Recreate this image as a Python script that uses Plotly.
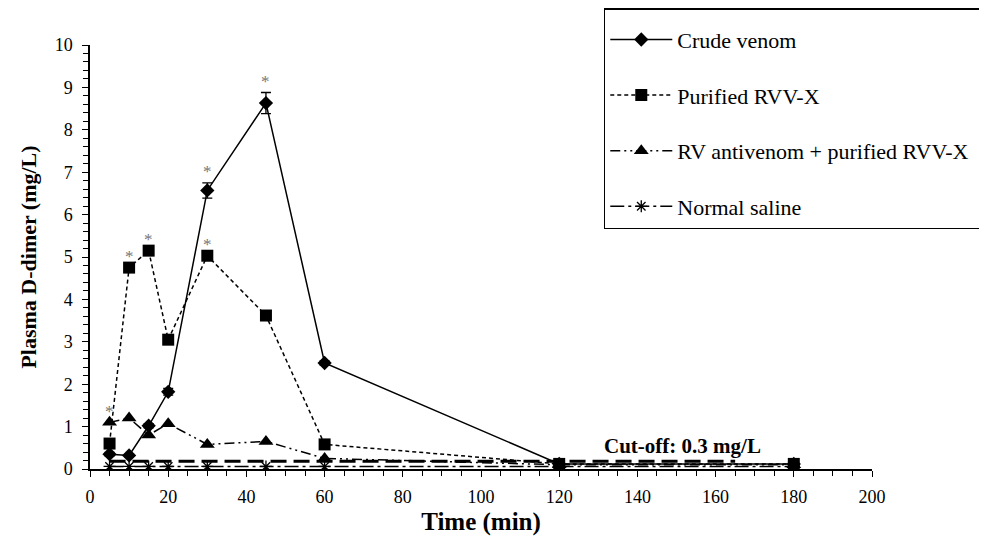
import plotly.graph_objects as go

# ---- data ----
time = [5, 10, 15, 20, 30, 45, 60, 120, 180]
crude_venom = [0.35, 0.32, 1.02, 1.82, 6.57, 8.63, 2.50, 0.12, 0.12]
crude_err = [0.04, 0.03, 0.05, 0.08, 0.18, 0.25, 0.05, 0.02, 0.02]
purified_rvvx = [0.60, 4.75, 5.15, 3.05, 5.03, 3.62, 0.58, 0.12, 0.12]
purified_err = [0.05, 0.10, 0.10, 0.08, 0.10, 0.08, 0.05, 0.02, 0.02]
antivenom_rvvx = [1.10, 1.20, 0.80, 1.07, 0.58, 0.65, 0.25, 0.10, 0.10]
normal_saline = [0.06, 0.06, 0.06, 0.06, 0.06, 0.06, 0.06, 0.06, 0.06]
cutoff_x = [5, 165]
cutoff_y = [0.18, 0.18]
cutoff_label = "Cut-off: 0.3 mg/L"
# significance flags (index into time)
sig_crude = [4, 5]
sig_purified = [1, 2, 4]
sig_antivenom = [0]

x_ticks = [0, 20, 40, 60, 80, 100, 120, 140, 160, 180, 200]
y_ticks = [0, 1, 2, 3, 4, 5, 6, 7, 8, 9, 10]

SERIF = "Liberation Serif, Times New Roman, serif"

fig = go.Figure()

fig.add_trace(go.Scatter(
    x=cutoff_x, y=cutoff_y, mode="lines", showlegend=False, hoverinfo="skip",
    line=dict(color="black", width=3, dash="16px,7px")))

fig.add_trace(go.Scatter(
    x=time, y=crude_venom, name="Crude venom", legendgroup="a",
    mode="lines+markers",
    line=dict(color="black", width=1.5),
    marker=dict(symbol="diamond", size=11, color="black"),
    error_y=dict(type="data", array=crude_err, color="black", thickness=1.3, width=5)))

fig.add_trace(go.Scatter(
    x=time, y=purified_rvvx, name="Purified RVV-X", legendgroup="b",
    mode="lines+markers",
    line=dict(color="black", width=1.5, dash="4px,3px"),
    marker=dict(symbol="square", size=12, color="black"),
    error_y=dict(type="data", array=purified_err, color="black", thickness=1, width=4)))

fig.add_trace(go.Scatter(
    x=time, y=antivenom_rvvx, name="RV antivenom + purified RVV-X&nbsp;&nbsp;", legendgroup="c",
    mode="lines+markers",
    line=dict(color="black", width=1.5, dash="10px,4px,2px,4px,2px,4px"),
    marker=dict(symbol="triangle-up", size=13, color="black")))

fig.add_trace(go.Scatter(
    x=time, y=normal_saline, name="Normal saline", legendgroup="d",
    mode="lines+markers",
    line=dict(color="black", width=1.5, dash="14px,4px,3px,4px"),
    marker=dict(symbol="asterisk-open", size=10, color="black",
                line=dict(color="black", width=1.3))))

# significance asterisks
annotations = []
for idx_list, vals, errs in [(sig_crude, crude_venom, crude_err),
                             (sig_purified, purified_rvvx, [0] * len(time)),
                             (sig_antivenom, antivenom_rvvx, [0] * len(time))]:
    for i in idx_list:
        annotations.append(dict(
            x=time[i], y=vals[i] + errs[i], xref="x", yref="y", text="*",
            showarrow=False, yshift=11,
            font=dict(family=SERIF, size=17, color="#777777")))

annotations.append(dict(
    x=cutoff_x[1], y=cutoff_y[0], xref="x", yref="y", text="<b>" + cutoff_label + "</b>",
    showarrow=False, xanchor="right", yanchor="bottom", yshift=1, xshift=28,
    font=dict(family=SERIF, size=21, color="black")))

fig.update_layout(
    width=987, height=543,
    margin=dict(l=82, r=123, t=37, b=82, autoexpand=False),
    paper_bgcolor="white", plot_bgcolor="white",
    font=dict(family=SERIF, color="black"),
    annotations=annotations,
    showlegend=True,
    legend=dict(
        x=0.657, y=1.087, xanchor="left", yanchor="top",
        bordercolor="black", borderwidth=1.5, bgcolor="white",
        font=dict(family=SERIF, size=22, color="black"),
        title=dict(text="&nbsp;", font=dict(size=7)),
        tracegroupgap=24, itemwidth=62),
    xaxis=dict(
        range=[0, 200], tickvals=x_ticks, ticks="outside", ticklen=6,
        tickcolor="black", tickwidth=1.3, automargin=False, ticklabelstandoff=5,
        minor=dict(dtick=5, ticks="outside", ticklen=5, tickcolor="black", tickwidth=1),
        showline=True, linecolor="black", linewidth=1.5, showgrid=False, zeroline=False,
        tickfont=dict(family=SERIF, size=18, color="black"),
        title=dict(text="<b>Time (min)</b>", font=dict(family=SERIF, size=25), standoff=6)),
    yaxis=dict(
        range=[0, 10], tickvals=y_ticks, ticks="outside", ticklen=6,
        tickcolor="black", tickwidth=1.3, automargin=False, ticklabelstandoff=6,
        minor=dict(dtick=0.2, ticks="outside", ticklen=5, tickcolor="black", tickwidth=1),
        showline=True, linecolor="black", linewidth=1.5, showgrid=False, zeroline=False,
        tickfont=dict(family=SERIF, size=18, color="black"),
        title=dict(text="<b>Plasma D-dimer (mg/L)</b>", font=dict(family=SERIF, size=22), standoff=12)),
)

fig.write_html("out.html")
